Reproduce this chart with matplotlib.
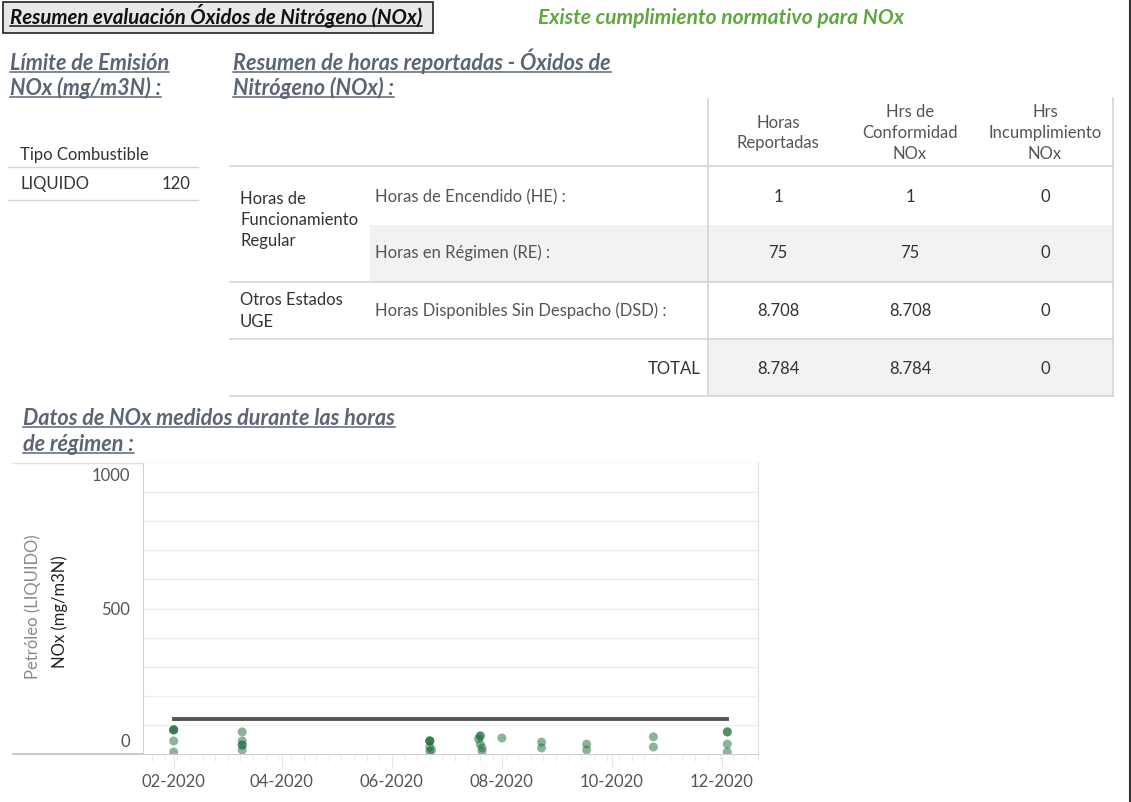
import matplotlib.pyplot as plt
import matplotlib.dates as mdates
import numpy as np
import pandas as pd

plt.rcParams['font.family'] = ['Lato', 'DejaVu Sans']

# ---- data ----
title = "Resumen evaluación Óxidos de Nitrógeno (NOx)"
status = "Existe cumplimiento normativo para NOx"

fuel_types = ["LIQUIDO"]
fuel_limits = [120]

col_headers = ["Horas\nReportadas", "Hrs de\nConformidad\nNOx", "Hrs\nIncumplimiento\nNOx"]
row_labels = ["Horas de Encendido (HE) :", "Horas en Régimen (RE) :",
              "Horas Disponibles Sin Despacho (DSD) :"]
group_labels = ["Horas de\nFuncionamiento\nRegular", "Otros Estados\nUGE"]
horas_reportadas = ["1", "75", "8.708"]
horas_conformidad = ["1", "75", "8.708"]
horas_incumplimiento = ["0", "0", "0"]
totales = ["8.784", "8.784", "0"]

fechas = ["2020-02-01", "2020-02-01", "2020-02-01", "2020-02-01", "2020-02-01",
          "2020-03-10", "2020-03-10", "2020-03-10", "2020-03-10", "2020-03-10",
          "2020-06-22", "2020-06-22", "2020-06-22", "2020-06-22", "2020-06-23", "2020-06-22",
          "2020-07-20", "2020-07-20", "2020-07-19", "2020-07-20", "2020-07-21", "2020-07-21",
          "2020-08-01",
          "2020-08-23", "2020-08-23",
          "2020-09-17", "2020-09-17",
          "2020-10-24", "2020-10-24",
          "2020-12-04", "2020-12-04", "2020-12-04", "2020-12-04"]
nox = [83, 83, 83, 45, 7,
       76, 45, 31, 31, 14,
       45, 45, 45, 24, 14, 10,
       62, 62, 52, 34, 21, 10,
       55,
       41, 21,
       34, 14,
       59, 24,
       76, 76, 34, 7]
limite = 120
limite_inicio = "2020-02-01"
limite_fin = "2020-12-04"
x_ticks = ["2020-02-01", "2020-04-01", "2020-06-01", "2020-08-01", "2020-10-01", "2020-12-01"]

df = pd.DataFrame({"fecha": pd.to_datetime(fechas), "nox": nox})

W, H = 1131, 803
fig = plt.figure(figsize=(W / 100, H / 100), dpi=100)
bg = fig.add_axes([0, 0, 1, 1])
bg.set_xlim(0, W)
bg.set_ylim(H, 0)
bg.axis("off")

head_col = "#5b6675"
txt_dark = "#333333"
txt_gray = "#555555"
line_col = "#d4d4d4"
fs = 12
hs = 15.6


def underlined(x, y, s, size, color, **kw):
    t = bg.text(x, y, s, fontsize=size, color=color, fontweight="bold",
                fontstyle="italic", va="baseline", ha="left", **kw)
    fig.canvas.draw()
    bb = t.get_window_extent().transformed(bg.transData.inverted())
    x0, x1 = sorted([bb.x0, bb.x1])
    bg.plot([x0, x1], [y + 3, y + 3], color=color, lw=1.1)
    return t


# title box
bg.add_patch(plt.Rectangle((3, 3), 430, 31, facecolor="#e8e8e8", edgecolor="#222222", lw=1.2))
underlined(10, 24, title, 14.7, "#111111")
bg.text(538, 24, status, fontsize=15.1, color="#5ea83f", fontweight="bold",
        fontstyle="italic", va="baseline")

# right border
bg.plot([1130, 1130], [0, H], color="#333333", lw=1.5)

# sub headings
underlined(10, 70, "Límite de Emisión", hs, head_col)
underlined(10, 95, "NOx (mg/m3N) :", hs, head_col)
underlined(233, 70, "Resumen de horas reportadas - Óxidos de", hs, head_col)
underlined(233, 95, "Nitrógeno (NOx) :", hs, head_col)

# limit table
bg.text(20, 155, "Tipo Combustible", fontsize=fs, color=txt_dark, va="center")
bg.plot([8, 198], [168, 168], color=line_col, lw=1)
for i, (f, l) in enumerate(zip(fuel_types, fuel_limits)):
    yy = 184 + i * 33
    bg.text(20, yy, f, fontsize=fs, color=txt_dark, va="center")
    bg.text(190, yy, str(l), fontsize=fs, color=txt_dark, va="center", ha="right")
    bg.plot([8, 198], [yy + 17, yy + 17], color=line_col, lw=1)

# hours table
cx = [778, 910, 1045]
row_y = [197, 253, 311]
bg.add_patch(plt.Rectangle((370, 226), 742, 57, facecolor="#f2f2f2", edgecolor="none"))
bg.add_patch(plt.Rectangle((708, 341), 404, 56, facecolor="#f2f2f2", edgecolor="none"))
bg.plot([708, 708], [100, 397], color=line_col, lw=1.2)
bg.plot([1113, 1113], [99, 397], color=line_col, lw=1.2)
for yy in [167, 283, 340, 397]:
    bg.plot([230, 1113], [yy, yy], color=line_col, lw=1.2)

for x, h in zip(cx, col_headers):
    bg.text(x, 133, h, fontsize=fs, color=txt_gray, ha="center",
            va="center", linespacing=1.38)

bg.text(240, 220, group_labels[0], fontsize=fs, color=txt_dark, va="center", linespacing=1.42)
bg.text(240, 311, group_labels[1], fontsize=fs, color=txt_dark, va="center", linespacing=1.42)

for i, lab in enumerate(row_labels):
    bg.text(375, row_y[i], lab, fontsize=fs, color=txt_gray, va="center")
    for x, col in zip(cx, [horas_reportadas, horas_conformidad, horas_incumplimiento]):
        bg.text(x, row_y[i], col[i], fontsize=fs, color=txt_dark, ha="center", va="center")

bg.text(700, 369, "TOTAL", fontsize=fs, color=txt_dark, ha="right", va="center")
for x, v in zip(cx, totales):
    bg.text(x, 369, v, fontsize=fs, color=txt_dark, ha="center", va="center")

# chart heading
underlined(23, 425, "Datos de NOx medidos durante las horas", hs, head_col)
underlined(23, 451, "de régimen :", hs, head_col)

# chart frame lines spanning the axis label area
bg.plot([13, 758], [464, 464], color="#e0e0e0", lw=1)
bg.plot([13, 758], [755, 755], color="#cccccc", lw=1.5)

# scatter chart
ax = fig.add_axes([143 / W, 1 - 755 / H, (758 - 143) / W, (755 - 464) / H])
ax.set_ylim(0, 1000)
ax.set_xlim(pd.Timestamp("2020-01-15"), pd.Timestamp("2020-12-21"))
for v in range(100, 1000, 100):
    ax.axhline(v, color="#efefef", lw=1, zorder=0)
ax.plot(pd.to_datetime([limite_inicio, limite_fin]), [limite, limite],
        color="#555555", lw=2.8, zorder=2)
ax.scatter(df["fecha"], df["nox"], s=42, color="#1c6b38", alpha=0.5,
           edgecolors="none", zorder=3)

ax.set_xticks(pd.to_datetime(x_ticks))
ax.xaxis.set_major_formatter(mdates.DateFormatter("%m-%Y"))
ax.xaxis.set_minor_locator(mdates.WeekdayLocator(byweekday=mdates.MO))
ax.tick_params(axis="x", which="major", length=10, color="#e6e6e6", labelsize=12,
               labelcolor=txt_gray, pad=4)
ax.tick_params(axis="x", which="minor", length=5, color="#e6e6e6")
ax.set_yticks([0, 500, 1000])
ax.set_yticklabels([])
ax.tick_params(axis="y", length=0)
for s in ["top", "bottom"]:
    ax.spines[s].set_visible(False)
ax.spines["left"].set_color("#cfcfcf")
ax.spines["right"].set_color("#dddddd")

# y tick labels (Tableau keeps end labels inside the pane)
for lab, yy in zip(["1000", "500", "0"], [476, 610, 742]):
    bg.text(130, yy, lab, fontsize=12, color=txt_gray, ha="right", va="center")

bg.text(33, 607, "Petróleo (LIQUIDO)", fontsize=12, color="#8a8a8a", rotation=90,
        ha="center", va="center")
bg.text(60, 612, "NOx (mg/m3N)", fontsize=12, color="#222222", rotation=90,
        ha="center", va="center")

fig.savefig("out.png", dpi=100)
